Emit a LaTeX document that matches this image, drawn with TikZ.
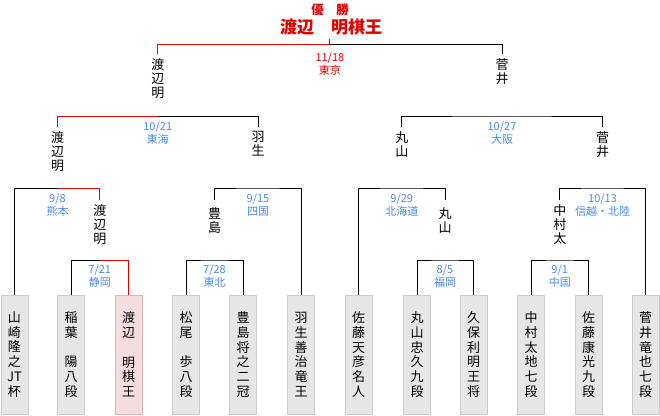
\documentclass[tikz,border=0pt]{standalone}
\usepackage{fontspec}
\setmainfont{Noto Sans CJK JP}
\usetikzlibrary{calc}
\definecolor{winred}{HTML}{E00000}
\definecolor{infoblue}{HTML}{4A8AF0}
\definecolor{boxgray}{HTML}{E6E6E6}
\definecolor{boxline}{HTML}{CCCCCC}
\definecolor{pinkfill}{HTML}{F5DDDD}
\definecolor{pinkline}{HTML}{DDB5B5}
\begin{document}
\begin{tikzpicture}[x=1pt,y=-1pt,
  line/.style={line width=1pt, draw=black},
  winline/.style={line width=1pt, draw=winred},
  player/.style={draw=boxline, fill=boxgray, line width=0.8pt, minimum width=27pt, minimum height=119pt, inner sep=0pt, align=center, font=\fontsize{13}{14.8}\selectfont},
  champplayer/.style={player, draw=pinkline, fill=pinkfill},
  wname/.style={anchor=north, align=center, inner xsep=0pt, inner ysep=4.5pt, font=\fontsize{13}{14}\selectfont},
  wnamelow/.style={wname, inner ysep=7pt},
  info/.style={align=center, inner sep=0pt, text=infoblue, font=\fontsize{11}{13}\selectfont},
  champ/.style={inner sep=0pt, text=winred},
]
\useasboundingbox (0,0) rectangle (660,415);

% players
\node[player] (b1) at (14.5,354.5) {山\\崎\\隆\\之\\JT\\杯};
\node[player] (b2) at (71,354.5) {稲\\葉\\\mbox{}\\陽\\八\\段};
\node[champplayer] (b3) at (128.5,354.5) {渡\\辺\\\mbox{}\\明\\棋\\王};
\node[player] (b4) at (186,354.5) {松\\尾\\\mbox{}\\歩\\八\\段};
\node[player] (b5) at (243,354.5) {豊\\島\\将\\之\\二\\冠};
\node[player] (b6) at (301,354.5) {羽\\生\\善\\治\\竜\\王};
\node[player] (b7) at (358.5,354.5) {佐\\藤\\天\\彦\\名\\人};
\node[player] (b8) at (417,354.5) {丸\\山\\忠\\久\\九\\段};
\node[player] (b9) at (473.5,354.5) {久\\保\\利\\明\\王\\将};
\node[player] (b10) at (531,354.5) {中\\村\\太\\地\\七\\段};
\node[player] (b11) at (588.5,354.5) {佐\\藤\\康\\光\\九\\段};
\node[player] (b12) at (645.5,354.5) {菅\\井\\竜\\也\\七\\段};

% winners of round 1
\node[wname] (w1a) at (99.75,200) {渡\\辺\\明};
\node[wnamelow] (w1b) at (214.5,200) {豊\\島};
\node[wnamelow] (w1c) at (445,200) {丸\\山};
\node[wname] (w1d) at (559.75,200) {中\\村\\太};
% winners of round 2
\node[wname] (w2a) at (57.5,127) {渡\\辺\\明};
\node[wname] (w2b) at (258,127) {羽\\生};
\node[wname] (w2c) at (401.75,127) {丸\\山};
\node[wname] (w2d) at (602.5,127) {菅\\井};
% winners of semifinals
\node[wname] (w3a) at (157.75,54) {渡\\辺\\明};
\node[wname] (w3b) at (502,54) {菅\\井};

% champion
\node[champ, font=\bfseries\fontsize{12.5}{12.5}\selectfont] (ch1) at (330,10) {優　勝};
\node[champ, font=\bfseries\fontsize{17}{17}\selectfont] (ch2) at (331,27) {渡辺　明棋王};

% round 1 brackets (y=260)
\coordinate (m1a) at (w1a.north |- 0,260);
\draw[line] (b2.north) |- (m1a);
\draw[winline] (m1a) -| (b3.north);
\coordinate (m1b) at (w1b.north |- 0,260);
\draw[line] (b4.north) |- (m1b) -| (b5.north);
\coordinate (m1c) at (w1c.north |- 0,260);
\draw[line] (b8.north) |- (m1c) -| (b9.north);
\coordinate (m1d) at (w1d.north |- 0,260);
\draw[line] (b10.north) |- (m1d) -| (b11.north);

% round 2 brackets (y=188)
\coordinate (m2a) at (w2a.north |- 0,188);
\draw[line] (b1.north) |- (m2a);
\draw[winline] (m2a) -| (w1a.north);
\coordinate (m2b) at (w2b.north |- 0,188);
\draw[line] (w1b.north) |- (m2b) -| (b6.north);
\coordinate (m2c) at (w2c.north |- 0,188);
\draw[line] (b7.north) |- (m2c) -| (w1c.north);
\coordinate (m2d) at (w2d.north |- 0,188);
\draw[line] (w1d.north) |- (m2d) -| (b12.north);

% semifinal brackets (y=116)
\coordinate (m3a) at (w3a.north |- 0,116);
\draw[winline] (w2a.north) |- (m3a);
\draw[line] (m3a) -| (w2b.north);
\coordinate (m3b) at (w3b.north |- 0,116);
\draw[line] (w2c.north) |- (m3b) -| (w2d.north);

% final (y=44)
\coordinate (m4) at (329.9,44);
\coordinate (tick) at (329.9,39);
\draw[winline] (w3a.north) |- (m4) -- (tick);
\draw[line] (m4) -| (w3b.north);

% match labels
\node[info] (i1a) at (99.75,276) {7/21\\静岡};
\node[info] (i1b) at (214.5,276) {7/28\\東北};
\node[info] (i1c) at (445,276) {8/5\\福岡};
\node[info] (i1d) at (559.75,276) {9/1\\中国};
\node[info] (i2a) at (57.5,205) {9/8\\熊本};
\node[info] (i2b) at (258,205) {9/15\\四国};
\node[info] (i2c) at (401.75,205) {9/29\\北海道};
\node[info] (i2d) at (602.5,205) {10/13\\信越・北陸};
\node[info] (i3a) at (157.75,133.5) {10/21\\東海};
\node[info] (i3b) at (502,133.5) {10/27\\大阪};
\node[info, text=winred] (i4) at (329.9,64) {11/18\\東京};
\end{tikzpicture}
\end{document}
